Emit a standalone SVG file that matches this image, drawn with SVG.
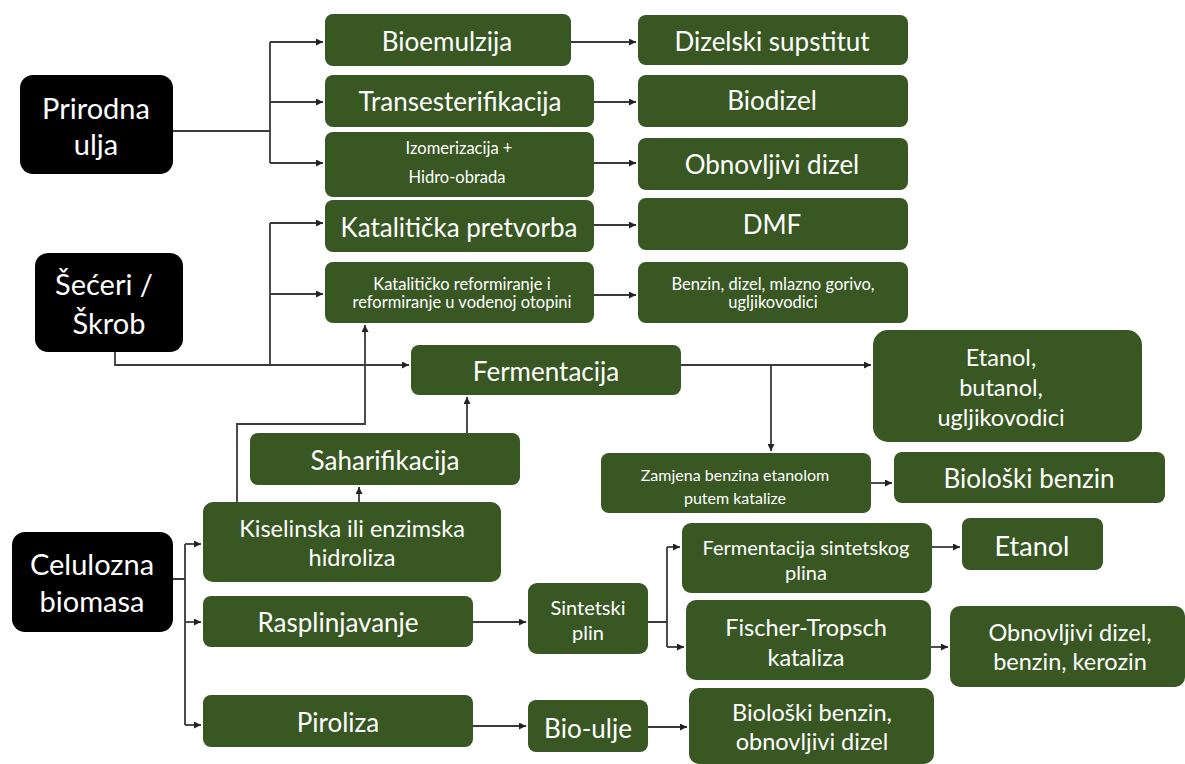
<svg xmlns="http://www.w3.org/2000/svg" width="1185" height="764" viewBox="0 0 1185 764">
<defs>
<marker id="ah" viewBox="0 0 8 8" refX="8" refY="4" markerWidth="7" markerHeight="7" markerUnits="userSpaceOnUse" orient="auto">
<path d="M0,0 L8,4 L0,8 z" fill="#222"/>
</marker>
<style>
.g{fill:#385723}
.k{fill:#000}
text{font-family:Lato,"Open Sans","Liberation Sans",sans-serif;fill:#fff;text-anchor:middle;dominant-baseline:central}
.xl{font-size:29px}
.l{font-size:26px}
.m{font-size:23.5px}
.s{font-size:20px}
.xs{font-size:16.5px}
.c path{fill:none;stroke:#3a3a3a;stroke-width:1.8}
.c .a{marker-end:url(#ah)}
</style>
</defs>
<rect width="1185" height="764" fill="#fff"/>

<g id="prirodna"><rect class="k" x="20" y="75" width="153" height="99" rx="13"/><text class="xl" x="96" y="107">Prirodna</text><text class="xl" x="96" y="143">ulja</text></g>
<g id="seceri"><rect class="k" x="35" y="253" width="148" height="99" rx="13"/><text class="xl" x="104" y="283">Šećeri /</text><text class="xl" x="109" y="322">Škrob</text></g>
<g id="celulozna"><rect class="k" x="12" y="532" width="161" height="100" rx="13"/><text class="xl" x="92" y="563">Celulozna</text><text class="xl" x="92" y="600">biomasa</text></g>

<g id="bioemulzija"><rect class="g" x="325" y="14" width="246" height="52" rx="8"/><text class="l" x="447" y="41">Bioemulzija</text></g>
<g id="transesterifikacija"><rect class="g" x="325" y="75" width="269" height="52" rx="8"/><text class="l" x="460" y="101">Transesterifikacija</text></g>
<g id="izomerizacija"><rect class="g" x="325" y="132" width="269" height="65" rx="8"/><text class="xs" x="459" y="148">Izomerizacija +</text><text class="xs" x="457" y="177">Hidro-obrada</text></g>
<g id="dizelski"><rect class="g" x="638" y="15" width="270" height="50" rx="8"/><text class="l" x="772" y="41">Dizelski supstitut</text></g>
<g id="biodizel"><rect class="g" x="638" y="75" width="270" height="52" rx="8"/><text class="l" x="772" y="100">Biodizel</text></g>
<g id="obnovljivi"><rect class="g" x="638" y="138" width="270" height="52" rx="8"/><text class="l" x="772" y="164">Obnovljivi dizel</text></g>
<g id="katpretvorba"><rect class="g" x="325" y="200" width="269" height="52" rx="8"/><text x="459" y="227" style="font-size:26px">Katalitička pretvorba</text></g>
<g id="dmf"><rect class="g" x="638" y="198" width="270" height="52" rx="8"/><text class="l" x="772" y="224">DMF</text></g>
<g id="reformiranje"><rect class="g" x="325" y="262" width="269" height="61" rx="8"/><text class="xs" x="462" y="284">Katalitičko reformiranje i</text><text class="xs" x="462" y="302">reformiranje u vodenoj otopini</text></g>
<g id="benzin"><rect class="g" x="638" y="262" width="270" height="61" rx="8"/><text class="xs" x="773" y="284">Benzin, dizel, mlazno gorivo,</text><text class="xs" x="773" y="302">ugljikovodici</text></g>
<g id="fermentacija"><rect class="g" x="411" y="345" width="270" height="50" rx="8"/><text class="l" x="546" y="371">Fermentacija</text></g>
<g id="etanolbutanol"><rect class="g" x="873" y="330" width="269" height="112" rx="15"/><text class="m" x="1001" y="357">Etanol,</text><text class="m" x="1001" y="387">butanol,</text><text class="m" x="1001" y="417">ugljikovodici</text></g>
<g id="zamjena"><rect class="g" x="601" y="453" width="270" height="60" rx="8"/><text x="735" y="474" style="font-size:16px">Zamjena benzina etanolom</text><text x="735" y="497" style="font-size:16px">putem katalize</text></g>
<g id="bioloskibenzin"><rect class="g" x="894" y="452" width="271" height="51" rx="8"/><text class="l" x="1029" y="478">Biološki benzin</text></g>
<g id="saharifikacija"><rect class="g" x="250" y="433" width="270" height="52" rx="8"/><text class="l" x="385" y="460">Saharifikacija</text></g>
<g id="kiselinska"><rect class="g" x="203" y="502" width="298" height="80" rx="10"/><text class="m" x="352" y="528">Kiselinska ili enzimska</text><text class="m" x="352" y="557">hidroliza</text></g>
<g id="rasplinjavanje"><rect class="g" x="203" y="596" width="270" height="51" rx="8"/><text class="l" x="338" y="622">Rasplinjavanje</text></g>
<g id="piroliza"><rect class="g" x="203" y="695" width="270" height="52" rx="8"/><text class="l" x="338" y="722">Piroliza</text></g>
<g id="sintetskiplin"><rect class="g" x="528" y="583" width="120" height="71" rx="9"/><text class="s" x="588" y="607">Sintetski</text><text class="s" x="588" y="632">plin</text></g>
<g id="fermsint"><rect class="g" x="682" y="523" width="250" height="70" rx="9"/><text class="s" x="806" y="547">Fermentacija sintetskog</text><text class="s" x="806" y="572">plina</text></g>
<g id="etanol"><rect class="g" x="962" y="518" width="141" height="52" rx="8"/><text x="1032" y="545" style="font-size:27px">Etanol</text></g>
<g id="fischer"><rect class="g" x="686" y="600" width="245" height="80" rx="10"/><text class="m" x="806" y="627">Fischer-Tropsch</text><text class="m" x="806" y="657">kataliza</text></g>
<g id="obndbk"><rect class="g" x="950" y="606" width="235" height="81" rx="10"/><text class="m" x="1070" y="632">Obnovljivi dizel,</text><text class="m" x="1070" y="661">benzin, kerozin</text></g>
<g id="bioulje"><rect class="g" x="528" y="700" width="120" height="52" rx="8"/><text class="l" x="588" y="728">Bio-ulje</text></g>
<g id="bioloskiobn"><rect class="g" x="689" y="688" width="245" height="76" rx="10"/><text class="m" x="812" y="712">Biološki benzin,</text><text class="m" x="812" y="741">obnovljivi dizel</text></g>

<g id="connectors" class="c">
<path d="M173,131 H270 M270,42 V163"/>
<path class="a" d="M270,42 H323"/>
<path class="a" d="M270,102 H323"/>
<path class="a" d="M270,163 H323"/>
<path class="a" d="M571,42 H636"/>
<path class="a" d="M594,102 H636"/>
<path class="a" d="M594,163 H636"/>
<path class="a" d="M115,352 V365 H409"/>
<path d="M270,365 V223"/>
<path class="a" d="M270,223 H323"/>
<path class="a" d="M270,294 H323"/>
<path class="a" d="M594,225 H636"/>
<path class="a" d="M594,295 H636"/>
<path class="a" d="M237,502 V424 H365 V325"/>
<path class="a" d="M359,502 V487"/>
<path class="a" d="M467,433 V397"/>
<path class="a" d="M681,365 H871"/>
<path class="a" d="M771,365 V451"/>
<path class="a" d="M871,483 H892"/>
<path d="M173,579 H185 M185,544 V725"/>
<path class="a" d="M185,544 H201"/>
<path class="a" d="M185,622 H201"/>
<path class="a" d="M185,725 H201"/>
<path class="a" d="M473,622 H526"/>
<path d="M648,622 H667 M667,547 V647"/>
<path class="a" d="M667,547 H680"/>
<path class="a" d="M667,647 H684"/>
<path class="a" d="M932,547 H960"/>
<path class="a" d="M931,647 H948"/>
<path class="a" d="M473,726 H526"/>
<path class="a" d="M648,727 H687"/>
</g>
</svg>
